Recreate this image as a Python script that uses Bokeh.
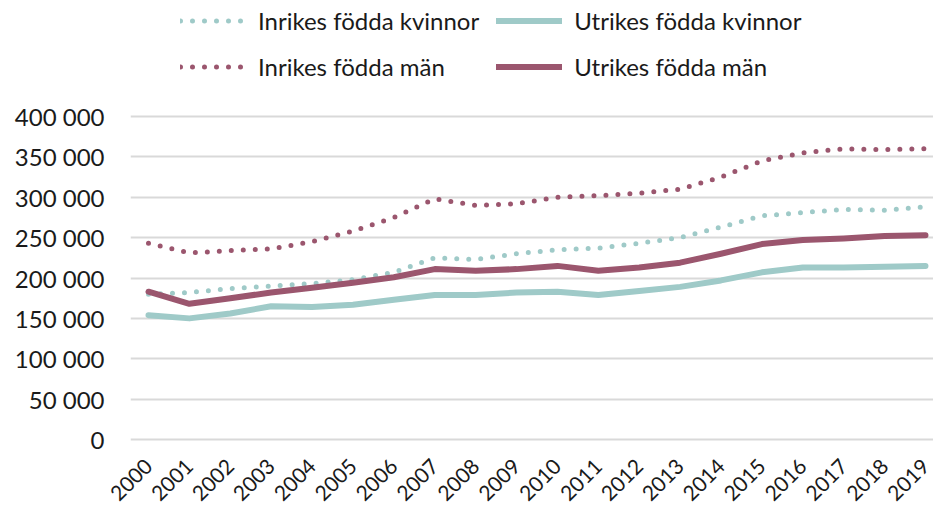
import math
from bokeh.plotting import figure
from bokeh.models import Range1d, Legend, LegendItem, FixedTicker, CustomJSTickFormatter
from bokeh.embed import file_html
from bokeh.resources import INLINE

years = list(range(2000, 2020))
inrikes_kvinnor = [180000, 182000, 187000, 190000, 193000, 198000, 207000, 225000, 223000, 230000,
                   235000, 237000, 243000, 250000, 263000, 277000, 281000, 285000, 284000, 288000]
utrikes_kvinnor = [154000, 150000, 156000, 165000, 164000, 167000, 173000, 179000, 179000, 182000,
                   183000, 179000, 184000, 189000, 197000, 207000, 213000, 213000, 214000, 215000]
inrikes_man = [243000, 231000, 234000, 236000, 245000, 258000, 275000, 298000, 290000, 292000,
               300000, 302000, 305000, 310000, 325000, 345000, 355000, 360000, 359000, 360000]
utrikes_man = [183000, 168000, 175000, 182000, 188000, 194000, 201000, 211000, 209000, 211000,
               215000, 209000, 213000, 219000, 230000, 242000, 247000, 249000, 252000, 253000]
y_ticks = [0, 50000, 100000, 150000, 200000, 250000, 300000, 350000, 400000]

TEAL = "#9fcac8"
MAROON = "#9b566e"
FONT = "Lato"

p = figure(frame_width=803, frame_height=444, output_backend="svg", toolbar_location=None,
           x_range=Range1d(1999.56, 2019.196), y_range=Range1d(-6192, 543654),
           min_border_left=130, min_border_right=0, min_border_top=0, min_border_bottom=66)
p.outline_line_color = None
p.background_fill_color = "white"
p.border_fill_color = "white"

r1 = p.line(years, inrikes_kvinnor, line_color=TEAL, line_width=5, line_dash="0 12", line_cap="round")
r2 = p.line(years, utrikes_kvinnor, line_color=TEAL, line_width=6, line_cap="round", line_join="round")
r3 = p.line(years, inrikes_man, line_color=MAROON, line_width=5, line_dash="0 12", line_cap="round")
r4 = p.line(years, utrikes_man, line_color=MAROON, line_width=6, line_cap="round", line_join="round")

p.xgrid.grid_line_color = None
p.ygrid.grid_line_color = "#d9d9d9"
p.ygrid.grid_line_width = 2
p.yaxis.ticker = FixedTicker(ticks=y_ticks)
p.yaxis.formatter = CustomJSTickFormatter(code="""
const s = Math.round(tick).toString();
return s.replace(/\\B(?=(\\d{3})+(?!\\d))/g, ' ');
""")
p.xaxis.ticker = FixedTicker(ticks=years)
p.xaxis.major_label_orientation = math.pi / 4

for ax in (p.xaxis, p.yaxis):
    ax.axis_line_color = None
    ax.major_tick_line_color = None
    ax.minor_tick_line_color = None
    ax.major_label_text_font = FONT
    ax.major_label_text_color = "#1a1a1a"
p.yaxis.major_label_text_font_size = "24px"
p.xaxis.major_label_text_font_size = "21px"
p.yaxis.major_label_standoff = 20
p.xaxis.major_label_standoff = 12

legend = Legend(items=[
    LegendItem(label="Inrikes födda kvinnor", renderers=[r1]),
    LegendItem(label="Utrikes födda kvinnor", renderers=[r2]),
    LegendItem(label="Inrikes födda män", renderers=[r3]),
    LegendItem(label="Utrikes födda män", renderers=[r4]),
], ncols=2, location=(50, 363), orientation="horizontal")
legend.label_text_font = FONT
legend.label_text_font_size = "24px"
legend.label_text_color = "#1a1a1a"
legend.glyph_width = 66
legend.glyph_height = 29
legend.spacing = 17
legend.label_standoff = 12
legend.border_line_color = None
legend.background_fill_alpha = 0
legend.padding = 0
legend.margin = 0
p.add_layout(legend)

open("out.html", "w").write(file_html(p, INLINE))
